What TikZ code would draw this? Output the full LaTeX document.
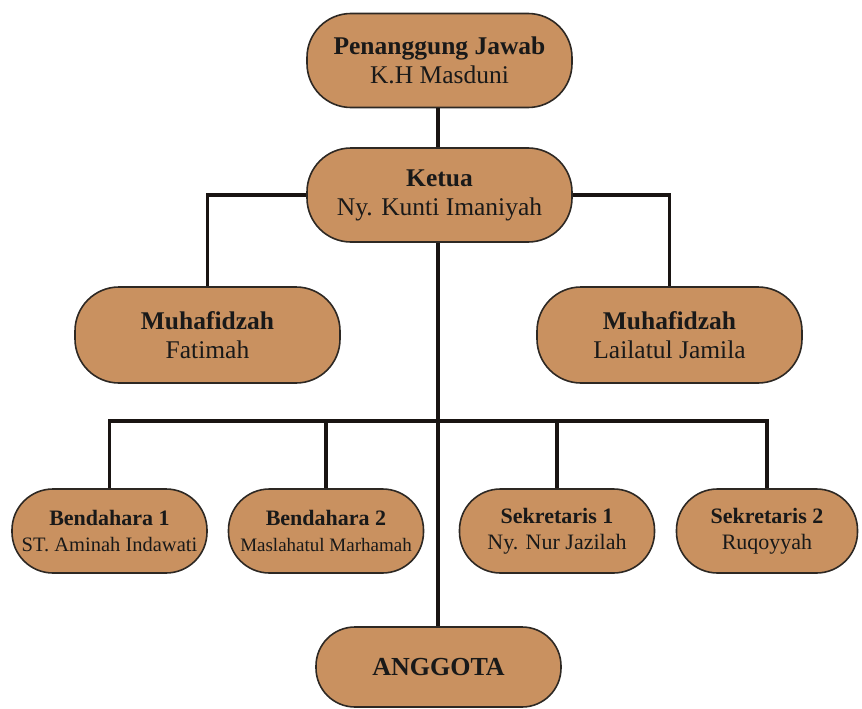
\documentclass[tikz,border=0pt]{standalone}
\usepackage{fontspec}
\setmainfont{Liberation Serif}
\definecolor{boxfill}{RGB}{201,145,96}
\definecolor{boxline}{RGB}{45,40,35}
\definecolor{conncol}{RGB}{25,20,18}
\begin{document}
\begin{tikzpicture}[x=1pt,y=-1pt,
  orgbox/.style={rectangle, draw=boxline, line width=1.6pt, fill=boxfill,
    inner sep=0pt, align=center, text=black!90},
  bigbox/.style={orgbox, rounded corners=44pt, minimum width=265pt, minimum height=94pt, font=\fontsize{25.5}{29}\selectfont},
  midbox/.style={orgbox, rounded corners=44pt, minimum width=265pt, minimum height=96pt, font=\fontsize{25.5}{29}\selectfont},
  smallbox/.style={orgbox, rounded corners=41pt, minimum width=195pt, minimum height=84pt, font=\fontsize{22}{26}\selectfont},
  conn/.style={draw=conncol, line width=3.6pt}]
\useasboundingbox (0,0) rectangle (862,709);
\coordinate (bar) at (438,421);
% nodes
\node[bigbox] (pj) at (439.5,60.5) {\textbf{Penanggung Jawab}\\K.H Masduni};
\node[bigbox] (ketua) at (439.5,195) {\textbf{Ketua}\\Ny. Kunti Imaniyah};
\node[midbox] (ml) at (207.5,335) {\textbf{Muhafidzah}\\Fatimah};
\node[midbox] (mr) at (669.5,335) {\textbf{Muhafidzah}\\Lailatul Jamila};
\node[smallbox] (b1) at (109.5,531) {\textbf{Bendahara 1}\\{\fontsize{20.5}{26}\selectfont ST. Aminah Indawati}};
\node[smallbox] (b2) at (326,531) {\textbf{Bendahara 2}\\{\fontsize{19}{26}\selectfont Maslahatul Marhamah}};
\node[smallbox] (s1) at (557,531) {\textbf{Sekretaris 1}\\Ny. Nur Jazilah};
\node[smallbox, minimum width=181pt] (s2) at (767,531) {\textbf{Sekretaris 2}\\Ruqoyyah};
\node[orgbox, rounded corners=39pt, minimum width=245pt, minimum height=80pt, font=\fontsize{26}{29}\selectfont] (ang) at (438.5,667) {\textbf{ANGGOTA}};
% connectors
\draw[conn] (pj.south -| 438,0) -- (ketua.north -| 438,0);
\draw[conn] (ketua.west) -| (ml.north);
\draw[conn] (ketua.east) -| (mr.north);
\draw[conn] (ketua.south -| 438,0) -- (ang.north -| 438,0);
\draw[conn] (b1.north) -- (b1.north |- bar) -- (s2.north |- bar) -- (s2.north);
\draw[conn] (b2.north) -- (b2.north |- bar);
\draw[conn] (s1.north) -- (s1.north |- bar);
\end{tikzpicture}
\end{document}
